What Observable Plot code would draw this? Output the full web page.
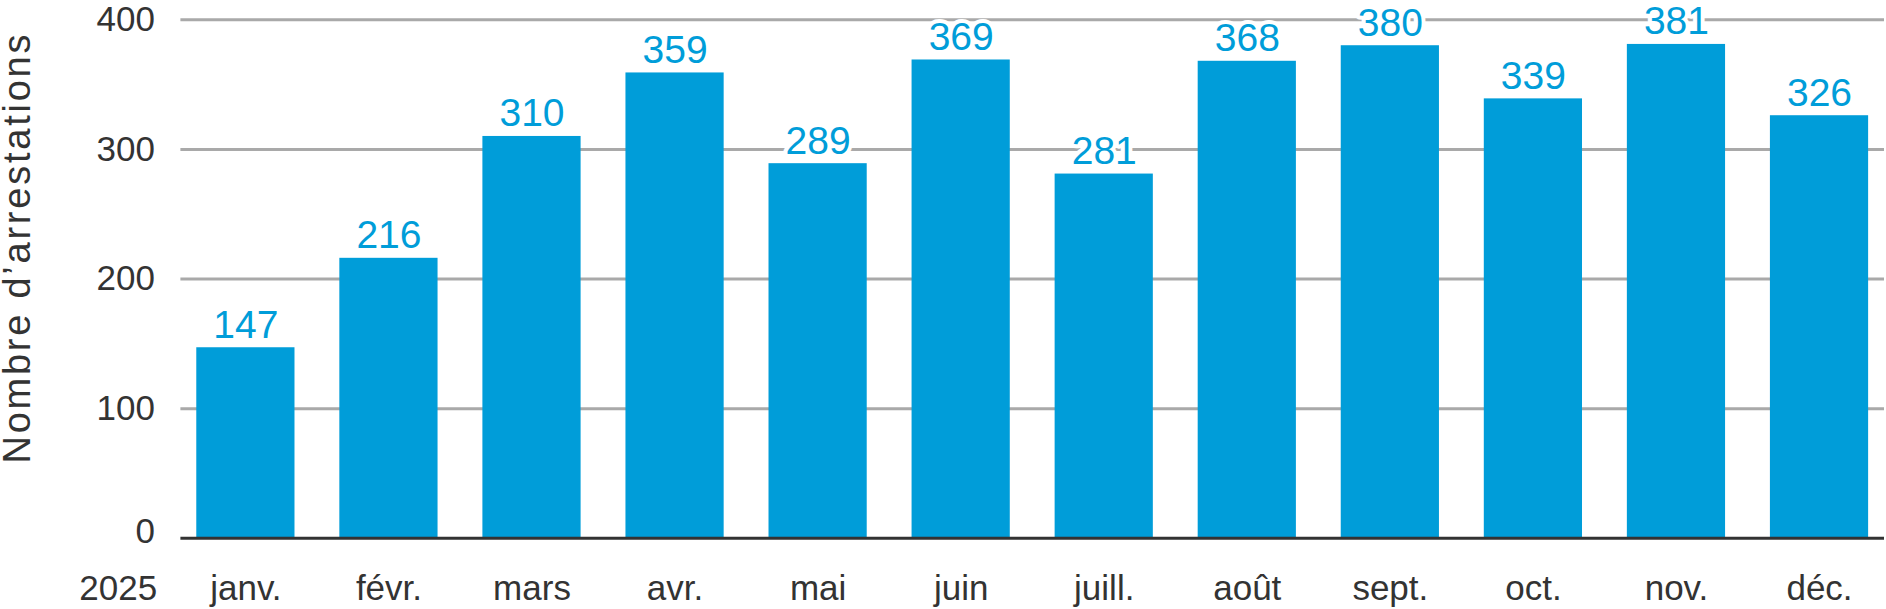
<!DOCTYPE html>
<html>
<head>
<meta charset="utf-8">
<script src="https://cdn.jsdelivr.net/npm/d3@7"></script>
<script src="https://cdn.jsdelivr.net/npm/@observablehq/plot@0.6"></script>
<style>
  html, body { margin: 0; padding: 0; background: #fff; }
  #chart svg { display: block; }
</style>
</head>
<body>
<div id="chart"></div>
<script>
const months = ["janv.", "févr.", "mars", "avr.", "mai", "juin", "juill.", "août", "sept.", "oct.", "nov.", "déc."];
const arrests = [147, 216, 310, 359, 289, 369, 281, 368, 380, 339, 381, 326];
const yTicks = [0, 100, 200, 300, 400];
const yearLabel = "2025";
const yTitle = "Nombre d’arrestations";

const data = months.map((m, i) => ({month: m, value: arrests[i]}));

const barColor = "#009DD9";
const textColor = "#333333";

const chart = Plot.plot({
  width: 1886,
  height: 609,
  marginTop: 19.3,
  marginBottom: 71.2,
  marginLeft: 180.4,
  marginRight: 2,
  style: {fontFamily: "'Liberation Sans', Arial, sans-serif", fontSize: "35px", color: textColor, background: "#fff", overflow: "visible"},
  x: {domain: months, paddingInner: 0.3135, paddingOuter: 0.111, round: false, label: null},
  y: {domain: [yTicks[0], yTicks[yTicks.length - 1]], label: null},
  marks: [
    Plot.gridY(yTicks.slice(1), {stroke: "#a9a9a9", strokeOpacity: 1, strokeWidth: 3}),
    Plot.barY(data, {x: "month", y: "value", fill: barColor}),
    Plot.ruleY([0], {stroke: "#333", strokeWidth: 3}),
    Plot.text(data, {x: "month", y: "value", text: d => String(d.value), fill: barColor, stroke: "white", strokeWidth: 8, fontSize: 39, dy: -22.5}),
    Plot.axisY(yTicks.slice(1), {tickSize: 0, tickPadding: 26, label: null}),
    Plot.axisY([yTicks[0]], {tickSize: 0, tickPadding: 26, dy: -7, label: null}),
    Plot.axisX({tickSize: 0, tickPadding: 37.3, label: null}),
    Plot.text([yearLabel], {text: d => d, frameAnchor: "bottom-left", textAnchor: "end", lineAnchor: "top", dx: -23.7, dy: 37.3, fill: textColor}),
    Plot.text([yTitle], {text: d => d, frameAnchor: "left", textAnchor: "middle", lineAnchor: "middle", rotate: -90, fontSize: 38, dx: -162.6, dy: -30, fill: textColor})
  ]
});
d3.select(chart).selectAll("text")
  .filter(function() { return this.textContent === yTitle; })
  .attr("textLength", 429)
  .attr("lengthAdjust", "spacing");
document.getElementById("chart").appendChild(chart);
</script>
</body>
</html>
